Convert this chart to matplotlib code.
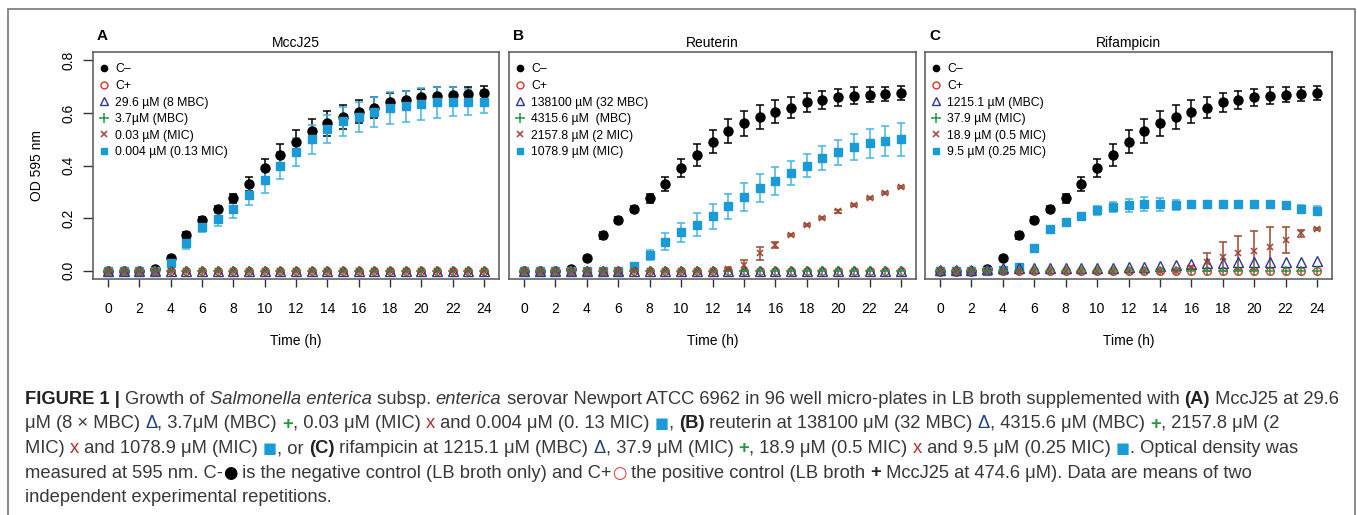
import numpy as np
import matplotlib
matplotlib.use('Agg')
import matplotlib.pyplot as plt
from matplotlib.lines import Line2D
from matplotlib.patches import Rectangle
from matplotlib.font_manager import FontProperties
from matplotlib.transforms import IdentityTransform

# --- data (OD 595 nm, means and SD) ---
hours = np.arange(0, 25)

zero_line = [0.0, 0.0, 0.0, 0.0, 0.0, 0.0, 0.0, 0.0, 0.0, 0.0, 0.0, 0.0, 0.0,
             0.0, 0.0, 0.0, 0.0, 0.0, 0.0, 0.0, 0.0, 0.0, 0.0, 0.0, 0.0]

neg_ctrl = [0.0, 0.0, 0.0, 0.005, 0.048, 0.135, 0.193, 0.235, 0.275, 0.33, 0.39, 0.44, 0.49,
            0.53, 0.56, 0.585, 0.605, 0.62, 0.64, 0.65, 0.66, 0.665, 0.67, 0.672, 0.675]
neg_ctrl_sd = [0.002, 0.002, 0.002, 0.004, 0.006, 0.013, 0.01, 0.012, 0.017, 0.027, 0.035, 0.04, 0.044,
               0.046, 0.047, 0.045, 0.043, 0.04, 0.037, 0.035, 0.033, 0.032, 0.03, 0.028, 0.027]

# A - MccJ25
a_sq = [0.0, 0.0, 0.0, 0.0, 0.03, 0.106, 0.165, 0.195, 0.234, 0.289, 0.344, 0.40, 0.45,
        0.499, 0.538, 0.568, 0.585, 0.603, 0.618, 0.625, 0.635, 0.64, 0.643, 0.643, 0.643]
a_sq_sd = [0.0, 0.0, 0.0, 0.0, 0.01, 0.025, 0.02, 0.025, 0.032, 0.04, 0.048, 0.052, 0.053,
           0.054, 0.054, 0.055, 0.056, 0.058, 0.06, 0.06, 0.06, 0.058, 0.056, 0.05, 0.045]

# B - Reuterin
b_sq = [0.0, 0.0, 0.0, 0.0, 0.0, 0.0, 0.0, 0.018, 0.06, 0.11, 0.145, 0.175, 0.206,
        0.245, 0.28, 0.315, 0.342, 0.371, 0.40, 0.429, 0.45, 0.47, 0.485, 0.495, 0.50]
b_sq_sd = [0.0, 0.0, 0.0, 0.0, 0.0, 0.0, 0.0, 0.008, 0.02, 0.032, 0.038, 0.043, 0.049,
           0.048, 0.052, 0.053, 0.053, 0.047, 0.044, 0.046, 0.047, 0.05, 0.055, 0.057, 0.062]
b_x = [0.0, 0.0, 0.0, 0.0, 0.0, 0.0, 0.0, 0.0, 0.0, 0.0, 0.0, 0.0, 0.0,
       0.005, 0.02, 0.066, 0.097, 0.135, 0.173, 0.2, 0.225, 0.25, 0.275, 0.294, 0.318]
b_x_sd = [0.0, 0.0, 0.0, 0.0, 0.0, 0.0, 0.0, 0.0, 0.0, 0.0, 0.0, 0.0, 0.0,
          0.004, 0.02, 0.025, 0.012, 0.005, 0.005, 0.004, 0.004, 0.004, 0.004, 0.004, 0.004]

# C - Rifampicin
c_sq = [0.0, 0.0, 0.0, 0.0, 0.002, 0.015, 0.087, 0.16, 0.185, 0.209, 0.229, 0.242, 0.249,
        0.253, 0.252, 0.249, 0.252, 0.252, 0.253, 0.253, 0.253, 0.252, 0.25, 0.234, 0.228]
c_sq_sd = [0.0, 0.0, 0.0, 0.0, 0.003, 0.01, 0.005, 0.005, 0.006, 0.01, 0.018, 0.02, 0.025,
           0.028, 0.026, 0.02, 0.012, 0.005, 0.004, 0.004, 0.004, 0.005, 0.006, 0.015, 0.018]
c_x = [0.0, 0.0, 0.0, 0.0, 0.0, 0.0, 0.0, 0.0, 0.0, 0.0, 0.0, 0.0, 0.0,
       0.0, 0.0, 0.0, 0.012, 0.034, 0.053, 0.068, 0.076, 0.089, 0.116, 0.142, 0.158]
c_x_sd = [0.0, 0.0, 0.0, 0.0, 0.0, 0.0, 0.0, 0.0, 0.0, 0.0, 0.0, 0.0, 0.0,
          0.0, 0.0, 0.0, 0.005, 0.034, 0.055, 0.065, 0.073, 0.078, 0.05, 0.014, 0.005]
c_tri = [0.003, 0.003, 0.004, 0.005, 0.008, 0.008, 0.008, 0.008, 0.008, 0.009, 0.01, 0.011, 0.013,
         0.014, 0.018, 0.02, 0.024, 0.027, 0.03, 0.032, 0.033, 0.033, 0.034, 0.034, 0.035]

titles = ['MccJ25', 'Reuterin', 'Rifampicin']
letters = ['A', 'B', 'C']
labels_a = ['C–', 'C+', '29.6 µM (8 MBC)', '3.7µM (MBC)', '0.03 µM (MIC)', '0.004 µM (0.13 MIC)']
labels_b = ['C–', 'C+', '138100 µM (32 MBC)', '4315.6 µM  (MBC)', '2157.8 µM (2 MIC)', '1078.9 µM (MIC)']
labels_c = ['C–', 'C+', '1215.1 µM (MBC)', '37.9 µM (MIC)', '18.9 µM (0.5 MIC)', '9.5 µM (0.25 MIC)']

panels = [
    dict(tri=zero_line, plus=zero_line, x=zero_line, x_sd=zero_line, sq=a_sq, sq_sd=a_sq_sd, labels=labels_a),
    dict(tri=zero_line, plus=zero_line, x=b_x, x_sd=b_x_sd, sq=b_sq, sq_sd=b_sq_sd, labels=labels_b),
    dict(tri=c_tri, plus=zero_line, x=c_x, x_sd=c_x_sd, sq=c_sq, sq_sd=c_sq_sd, labels=labels_c),
]

RED = '#e8302a'
NAVY = '#2b3990'
GREEN = '#1f9b3a'
BROWN = '#a0452f'
BLUE = '#1a9bd7'
LBLUE = '#45b4e4'

plt.rcParams['font.family'] = ['Liberation Sans', 'DejaVu Sans']

W, H = 1357, 515
fig = plt.figure(figsize=(W / 100, H / 100), dpi=100)

boxes = [(93, 52, 499, 279), (509, 52, 916, 279), (925, 52, 1332, 279)]


def bars(ax, y, sd, color):
    y = np.asarray(y)
    sd = np.asarray(sd)
    m = sd > 0
    ax.errorbar(hours[m], y[m], yerr=sd[m], fmt='none', ecolor=color,
                elinewidth=1.1, capsize=3, capthick=1.1, zorder=2)


for i, p in enumerate(panels):
    x0, y0, x1, y1 = boxes[i]
    ax = fig.add_axes([x0 / W, 1 - y1 / H, (x1 - x0) / W, (y1 - y0) / H])

    bars(ax, neg_ctrl, neg_ctrl_sd, 'black')
    ax.plot(hours, neg_ctrl, 'o', color='black', ms=6.5, zorder=3)
    bars(ax, p['sq'], p['sq_sd'], LBLUE)
    ax.plot(hours, p['sq'], 's', color=BLUE, ms=6, zorder=4)
    ax.plot(hours, zero_line, 'o', mfc='none', mec=RED, ms=5.5, mew=1, zorder=5)
    ax.plot(hours, p['tri'], '^', mfc='none', mec=NAVY, ms=6.5, mew=1, zorder=5)
    ax.plot(hours, p['plus'], '+', color=GREEN, ms=7, mew=1.1, zorder=5)
    bars(ax, p['x'], p['x_sd'], BROWN)
    ax.plot(hours, p['x'], 'x', color=BROWN, ms=5, mew=1.1, zorder=6)

    ax.set_xlim(-0.96, 24.96)
    ax.set_ylim(-0.032, 0.832)
    ax.set_xticks(np.arange(0, 25, 2))
    ax.tick_params(axis='x', direction='out', length=6, width=1, labelsize=10, pad=10.5, color='#333333')
    for s in ax.spines.values():
        s.set_color('#555555')
        s.set_linewidth(1.1)
    if i == 0:
        ax.set_yticks([0.0, 0.2, 0.4, 0.6, 0.8])
        ax.set_yticklabels(['0.0', '0.2', '0.4', '0.6', '0.8'], rotation=90, va='center')
        ax.tick_params(axis='y', direction='out', length=7, width=1, labelsize=10, pad=5.5, color='#333333')
        ax.set_ylabel('OD 595 nm', fontsize=10, labelpad=13)
    else:
        ax.set_yticks([])

    handles = [
        Line2D([], [], ls='none', marker='o', color='black', ms=4.5),
        Line2D([], [], ls='none', marker='o', mfc='none', mec=RED, ms=5, mew=1),
        Line2D([], [], ls='none', marker='^', mfc='none', mec=NAVY, ms=5.5, mew=1),
        Line2D([], [], ls='none', marker='+', color=GREEN, ms=6.5, mew=1.1),
        Line2D([], [], ls='none', marker='x', color=BROWN, ms=4.5, mew=1.1),
        Line2D([], [], ls='none', marker='s', color=BLUE, ms=4.5),
    ]
    aw, ah = x1 - x0, y1 - y0
    ax.legend(handles, p['labels'], loc='upper left', bbox_to_anchor=(5 / aw, 1 - 11.5 / ah),
              frameon=False, fontsize=8.8, handlelength=0.97, handletextpad=0.43,
              labelspacing=0.37, borderaxespad=0, borderpad=0)

    ax.set_title(titles[i], fontsize=10, pad=3.5)
    fig.text((x0 + 4) / W, 1 - 36 / H, letters[i], fontsize=11, fontweight='bold', va='center', ha='left')
    fig.text((x0 + x1) / 2 / W, 1 - 341 / H, 'Time (h)', fontsize=10, ha='center', va='center')

# outer frame
fig.patches.append(Rectangle((8, -10), 1347, H - 9 + 10, transform=IdentityTransform(),
                             fill=False, edgecolor='#777777', linewidth=1.2))

# --- caption with mixed styles ---
TXT = '#383838'
styles = {
    'n': dict(color=TXT),
    'i': dict(color=TXT, style='italic'),
    'b': dict(color='#222222', weight='bold'),
    'tri': dict(color='#1f3f78'),
    'plus': dict(color=GREEN, weight='bold'),
    'x': dict(color='#b03030'),
    'sq': dict(color=BLUE, family=['DejaVu Sans'], scale=0.8),
    'dot': dict(color='black', family=['DejaVu Sans'], scale=0.9),
    'ring': dict(color=RED, family=['DejaVu Sans'], scale=0.9),
    'bplus': dict(color='#222222', weight='bold'),
}

caption = [
    [("FIGURE 1 | ", 'b'), ("Growth of ", 'n'), ("Salmonella enterica", 'i'), (" subsp. ", 'n'),
     ("enterica", 'i'), (" serovar Newport ATCC 6962 in 96 well micro-plates in LB broth supplemented with ", 'n'),
     ("(A)", 'b'), (" MccJ25 at 29.6", 'n')],
    [("μM (8 × MBC) ", 'n'), ("Δ", 'tri'), (", 3.7μM (MBC) ", 'n'), ("+", 'plus'), (", 0.03 μM (MIC) ", 'n'),
     ("x", 'x'), (" and 0.004 μM (0. 13 MIC) ", 'n'), ("■", 'sq'), (", ", 'n'), ("(B)", 'b'),
     (" reuterin at 138100 μM (32 MBC) ", 'n'), ("Δ", 'tri'), (", 4315.6 μM (MBC) ", 'n'), ("+", 'plus'),
     (", 2157.8 μM (2", 'n')],
    [("MIC) ", 'n'), ("x", 'x'), (" and 1078.9 μM (MIC) ", 'n'), ("■", 'sq'), (", or ", 'n'), ("(C)", 'b'),
     (" rifampicin at 1215.1 μM (MBC) ", 'n'), ("Δ", 'tri'), (", 37.9 μM (MIC) ", 'n'), ("+", 'plus'),
     (", 18.9 μM (0.5 MIC) ", 'n'), ("x", 'x'), (" and 9.5 μM (0.25 MIC) ", 'n'), ("■", 'sq'),
     (". Optical density was", 'n')],
    [("measured at 595 nm. C-", 'n'), ("●", 'dot'), (" is the negative control (LB broth only) and C+", 'n'),
     ("○", 'ring'), (" the positive control (LB broth ", 'n'), ("+", 'bplus'),
     (" MccJ25 at 474.6 μM). Data are means of two", 'n')],
    [("independent experimental repetitions.", 'n')],
]

renderer = fig.canvas.get_renderer()


def font_for(key, size):
    st = styles[key]
    fam = st.get('family', ['Liberation Sans', 'DejaVu Sans'])
    return FontProperties(family=fam, size=size * st.get('scale', 1.0),
                          weight=st.get('weight', 'normal'), style=st.get('style', 'normal'))


def advance(s, prop):
    w1 = renderer.get_text_width_height_descent('|' + s + '|', prop, ismath=False)[0]
    w0 = renderer.get_text_width_height_descent('||', prop, ismath=False)[0]
    return w1 - w0


def line_width(line, size):
    return sum(advance(s, font_for(k, size)) for s, k in line)


base = 11.0
size = base * 1310 / line_width(caption[0], base)

baseline = 404
for line in caption:
    x = 25
    for s, k in line:
        prop = font_for(k, size)
        fig.text(x, H - baseline, s, fontproperties=prop, color=styles[k]['color'],
                 transform=IdentityTransform(), ha='left', va='baseline')
        x += advance(s, prop)
    baseline += 24.5

fig.savefig('out.png', dpi=100)
